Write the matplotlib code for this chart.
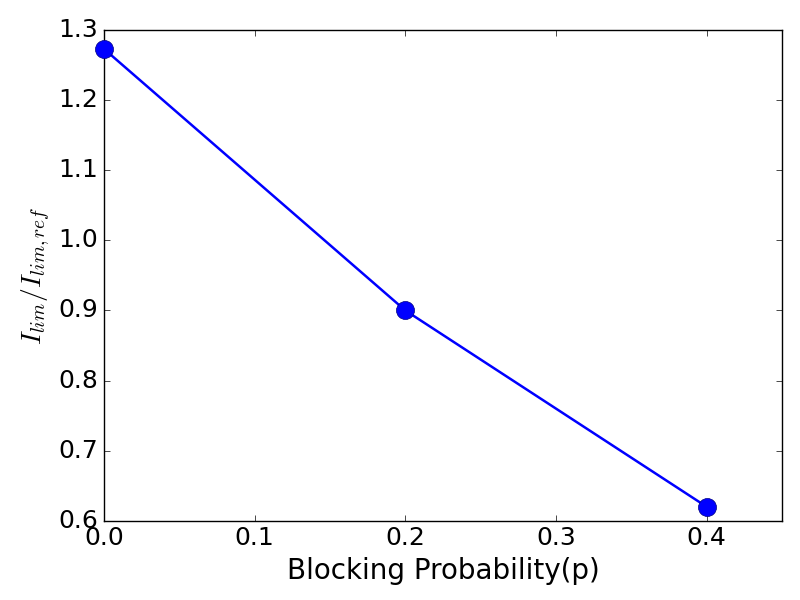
import matplotlib
matplotlib.use('Agg')
import matplotlib.pyplot as plt

# data
block_prob = [0.0, 0.2, 0.4]
ilim_ratio = [1.273, 0.900, 0.620]

plt.style.use('classic')
plt.rcParams['figure.facecolor'] = 'white'
plt.rcParams['savefig.facecolor'] = 'white'
plt.rcParams['mathtext.fontset'] = 'cm'

fig = plt.figure(figsize=(8, 6), dpi=100)
ax = fig.add_axes([0.13, 0.132, 0.8475, 0.818])
ax.plot(block_prob, ilim_ratio, '-o', color='b', lw=1.8,
        markersize=13, markerfacecolor='b', markeredgecolor='#000080',
        clip_on=False, zorder=3)

ax.set_xlim(0, 0.45)
ax.set_ylim(0.6, 1.3)
ax.set_xticks([0.0, 0.1, 0.2, 0.3, 0.4])
ax.set_yticks([0.6, 0.7, 0.8, 0.9, 1.0, 1.1, 1.2, 1.3])
ax.tick_params(labelsize=18)
ax.set_xlabel('Blocking Probability(p)', fontsize=20)
ax.set_ylabel(r'$I_{lim}/I_{lim,ref}$', fontsize=20)

fig.savefig('out.png', dpi=100)
